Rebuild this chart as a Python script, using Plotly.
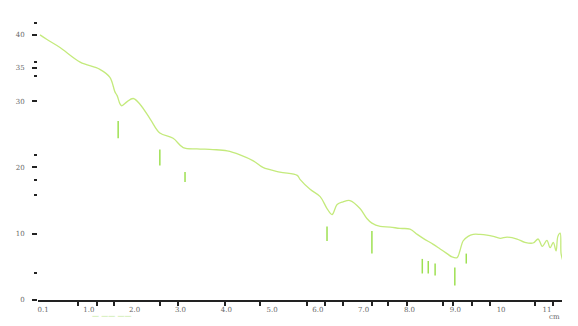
import plotly.graph_objects as go

# spectrum trace (x in axis units, y in axis units)
x_vals = [-0.066, 0.087, 0.37, 0.81, 1.24, 1.46, 1.57, 1.62, 1.68, 1.72, 1.83, 1.97, 2.12, 2.34, 2.55,
          2.84, 3.06, 3.36, 3.71, 4.02, 4.30, 4.59, 4.80, 5.17, 5.55, 5.61, 5.83, 6.05, 6.20, 6.31,
          6.42, 6.55, 6.70, 6.92, 7.07, 7.18, 7.36, 7.58, 7.79, 8.01, 8.17, 8.30, 8.52, 8.67, 8.82,
          8.93, 9.04, 9.10, 9.17, 9.28, 9.39, 9.54, 9.69, 9.83, 9.98, 10.13, 10.35, 10.52, 10.70,
          10.81, 10.90, 11.0, 11.07, 11.14, 11.2, 11.24, 11.29, 11.31, 11.35]
y_vals = [40.0, 39.3, 38.1, 35.9, 34.8, 33.6, 31.4, 30.8, 29.6, 29.3, 29.9, 30.4, 29.5, 27.3, 25.2,
          24.4, 23.0, 22.8, 22.7, 22.5, 21.9, 21.0, 20.0, 19.3, 18.8, 18.2, 16.7, 15.6, 13.8, 12.9,
          14.4, 14.8, 15.0, 13.8, 12.3, 11.6, 11.1, 11.0, 10.8, 10.7, 9.9, 9.3, 8.4, 7.7, 7.0,
          6.5, 6.4, 7.4, 8.9, 9.6, 9.9, 9.9, 9.8, 9.6, 9.3, 9.5, 9.2, 8.7, 8.6,
          9.2, 8.1, 9.0, 7.9, 8.7, 7.4, 9.6, 10.1, 7.0, 5.9]

# small vertical marker lines under the absorption dips
mark_x = [1.64, 2.55, 3.10, 6.20, 7.18, 8.28, 8.41, 8.56, 8.99, 9.24]
mark_top = [27.0, 22.7, 19.3, 11.1, 10.4, 6.2, 5.9, 5.5, 4.9, 7.0]
mark_bot = [24.4, 20.3, 17.8, 8.9, 7.0, 4.0, 4.0, 3.7, 2.2, 5.5]

x_tick_vals = list(range(12))
x_tick_text = ["0.1", "1.0", "2.0", "3.0", "4.0", "5.0", "6.0", "7.0", "8.0", "9.0", "10", "11"]
x_minor_vals = [0.76, 1.18, 1.55, 2.55, 2.95, 3.97, 4.74, 5.76, 6.16, 6.55, 7.18, 7.53, 7.95,
                8.73, 8.95, 9.37, 9.76, 10.74, 11.13]
y_tick_vals = [0, 10, 20, 30, 35, 40]
y_tick_text = ["0", "10", "20", "30", "35", "40"]
y_minor_vals = [4.0, 15.9, 18.1, 21.9, 33.8, 35.9, 41.8]

mx, my = [], []
for xv, t, b in zip(mark_x, mark_top, mark_bot):
    mx += [xv, xv, None]
    my += [t, b, None]

fig = go.Figure()
fig.add_trace(go.Scatter(x=x_vals, y=y_vals, mode="lines", line_shape="spline",
                         line=dict(color="#c4ea7c", width=1.3), showlegend=False, hoverinfo="skip"))
fig.add_trace(go.Scatter(x=mx, y=my, mode="lines",
                         line=dict(color="#9ee052", width=1.5), showlegend=False, hoverinfo="skip"))

fig.update_layout(
    width=578, height=326,
    margin=dict(l=38, r=16, t=15, b=21),
    paper_bgcolor="white", plot_bgcolor="white",
    font=dict(family="DejaVu Serif", size=7, color="#666"),
    xaxis=dict(range=[-0.11, 11.33], tickmode="array", tickvals=x_tick_vals, ticktext=x_tick_text,
               showgrid=False, zeroline=False, showline=True, linecolor="#222", linewidth=1.5,
               ticks="", ticklabelstandoff=2,
               minor=dict(tickmode="array", tickvals=x_minor_vals, ticks="outside", ticklen=4,
                          tickcolor="#222", tickwidth=1.5)),
    yaxis=dict(range=[0, 43], tickmode="array", tickvals=y_tick_vals, ticktext=y_tick_text,
               showgrid=False, zeroline=False, showline=False, ticklabelstandoff=6,
               ticks="outside", ticklen=5, tickcolor="#222", tickwidth=1.5,
               minor=dict(tickmode="array", tickvals=y_minor_vals, ticks="outside", ticklen=3,
                          tickcolor="#222", tickwidth=1.5)),
)
fig.add_annotation(text="cm", x=1.0, y=0, xref="paper", yref="paper", xanchor="right", yanchor="top",
                   yshift=-11, showarrow=False, font=dict(size=7, color="#666"))
fig.add_annotation(text="— —— ——", x=0.1, y=0, xref="paper", yref="paper", xanchor="left", yanchor="top",
                   yshift=-10, showarrow=False, font=dict(size=7, color="#a8e070"))

fig.write_html("out.html")
